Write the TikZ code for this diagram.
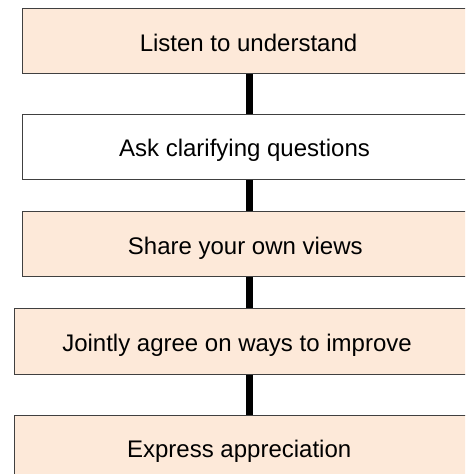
\documentclass[tikz,border=0pt]{standalone}
\usepackage{fontspec}
\setmainfont{Liberation Sans}
\usepackage{tikz}
\definecolor{stepfill}{RGB}{253,233,217}
\definecolor{stepline}{RGB}{64,64,64}
\tikzset{
  stepbox/.style={draw=stepline,line width=0.5pt,rectangle,inner sep=0pt,minimum height=32.5pt},
  wide/.style={minimum width=227.5pt},
  wider/.style={minimum width=235.5pt},
  steptext/.style={anchor=base,inner sep=0pt,font=\fontsize{12}{14}\selectfont},
  spine/.style={line width=3.5pt,black},
}
\begin{document}
\begin{tikzpicture}[x=0.5pt,y=0.5pt]
  \useasboundingbox (0,0) rectangle (465,-474);
  \clip (0,0) rectangle (465,-474);
  % step boxes run off the right edge
  \node[stepbox,wide,fill=stepfill] (listen) at (249.5,-41.5) {};
  \node[stepbox,wide,fill=white] (ask) at (249.5,-147) {};
  \node[stepbox,wide,fill=stepfill] (share) at (249.5,-244.2) {};
  \node[stepbox,wider,fill=stepfill] (agree) at (249.5,-341.5) {};
  \node[stepbox,wider,fill=stepfill] (thank) at (249.5,-447.5) {};
  \node[steptext] (listen-t) at (248.5,-51.5) {Listen to understand};
  \node[steptext] (ask-t) at (244.5,-157) {Ask clarifying questions};
  \node[steptext] (share-t) at (245.3,-254.2) {Share your own views};
  \node[steptext] (agree-t) at (237,-351.5) {Jointly agree on ways to improve};
  \node[steptext] (thank-t) at (239.2,-457.5) {Express appreciation};
  \draw[spine] (listen.south) -- (ask.north);
  \draw[spine] (ask.south) -- (share.north);
  \draw[spine] (share.south) -- (agree.north);
  \draw[spine] (agree.south) -- (thank.north);
\end{tikzpicture}
\end{document}
